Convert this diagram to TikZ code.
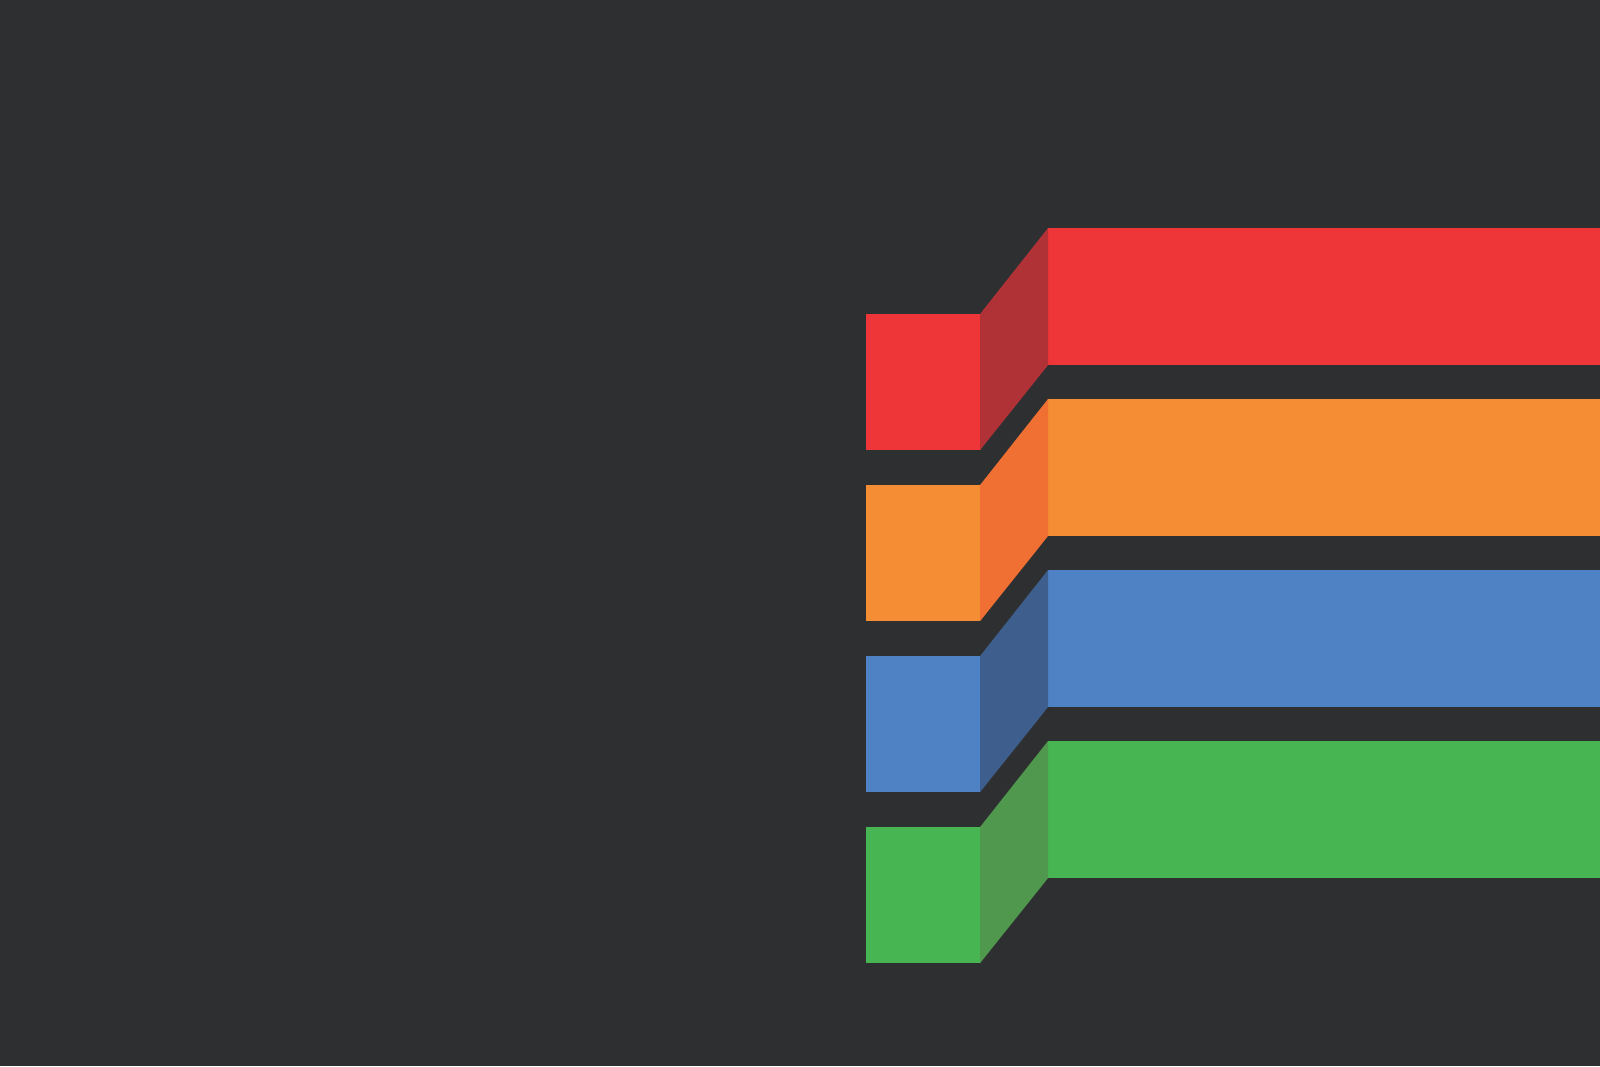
\documentclass[tikz,border=0pt]{standalone}
\usepackage{tikz}
\usetikzlibrary{positioning}

\definecolor{bgdark}{HTML}{2E2F31}
\definecolor{frontred}{HTML}{EE3538}
\definecolor{sidered}{HTML}{B03237}
\definecolor{frontorange}{HTML}{F48D33}
\definecolor{sideorange}{HTML}{F07034}
\definecolor{frontblue}{HTML}{4E82C4}
\definecolor{sideblue}{HTML}{3E5F8D}
\definecolor{frontgreen}{HTML}{48B553}
\definecolor{sidegreen}{HTML}{4F984D}

\begin{document}
\begin{tikzpicture}[x=0.01cm, y=-0.01cm,
    block/.style={rectangle, inner sep=0pt, outer sep=0pt, anchor=north west}]

    \fill[bgdark] (0,0) rectangle (1600,1066);
    \useasboundingbox (0,0) rectangle (1600,1066);

    \foreach \col [count=\i from 0] in {red,orange,blue,green} {
        \node[block, fill=front\col, minimum width=1.14cm, minimum height=1.36cm] (sq\i) at (866,{314+171*\i}) {};
        \node[block, fill=front\col, minimum width=5.52cm, minimum height=1.37cm] (bar\i) at (1048,{228+171*\i}) {};
        \fill[side\col] (sq\i.north east) -- (bar\i.north west) -- (bar\i.south west) -- (sq\i.south east) -- cycle;
    }
\end{tikzpicture}
\end{document}
